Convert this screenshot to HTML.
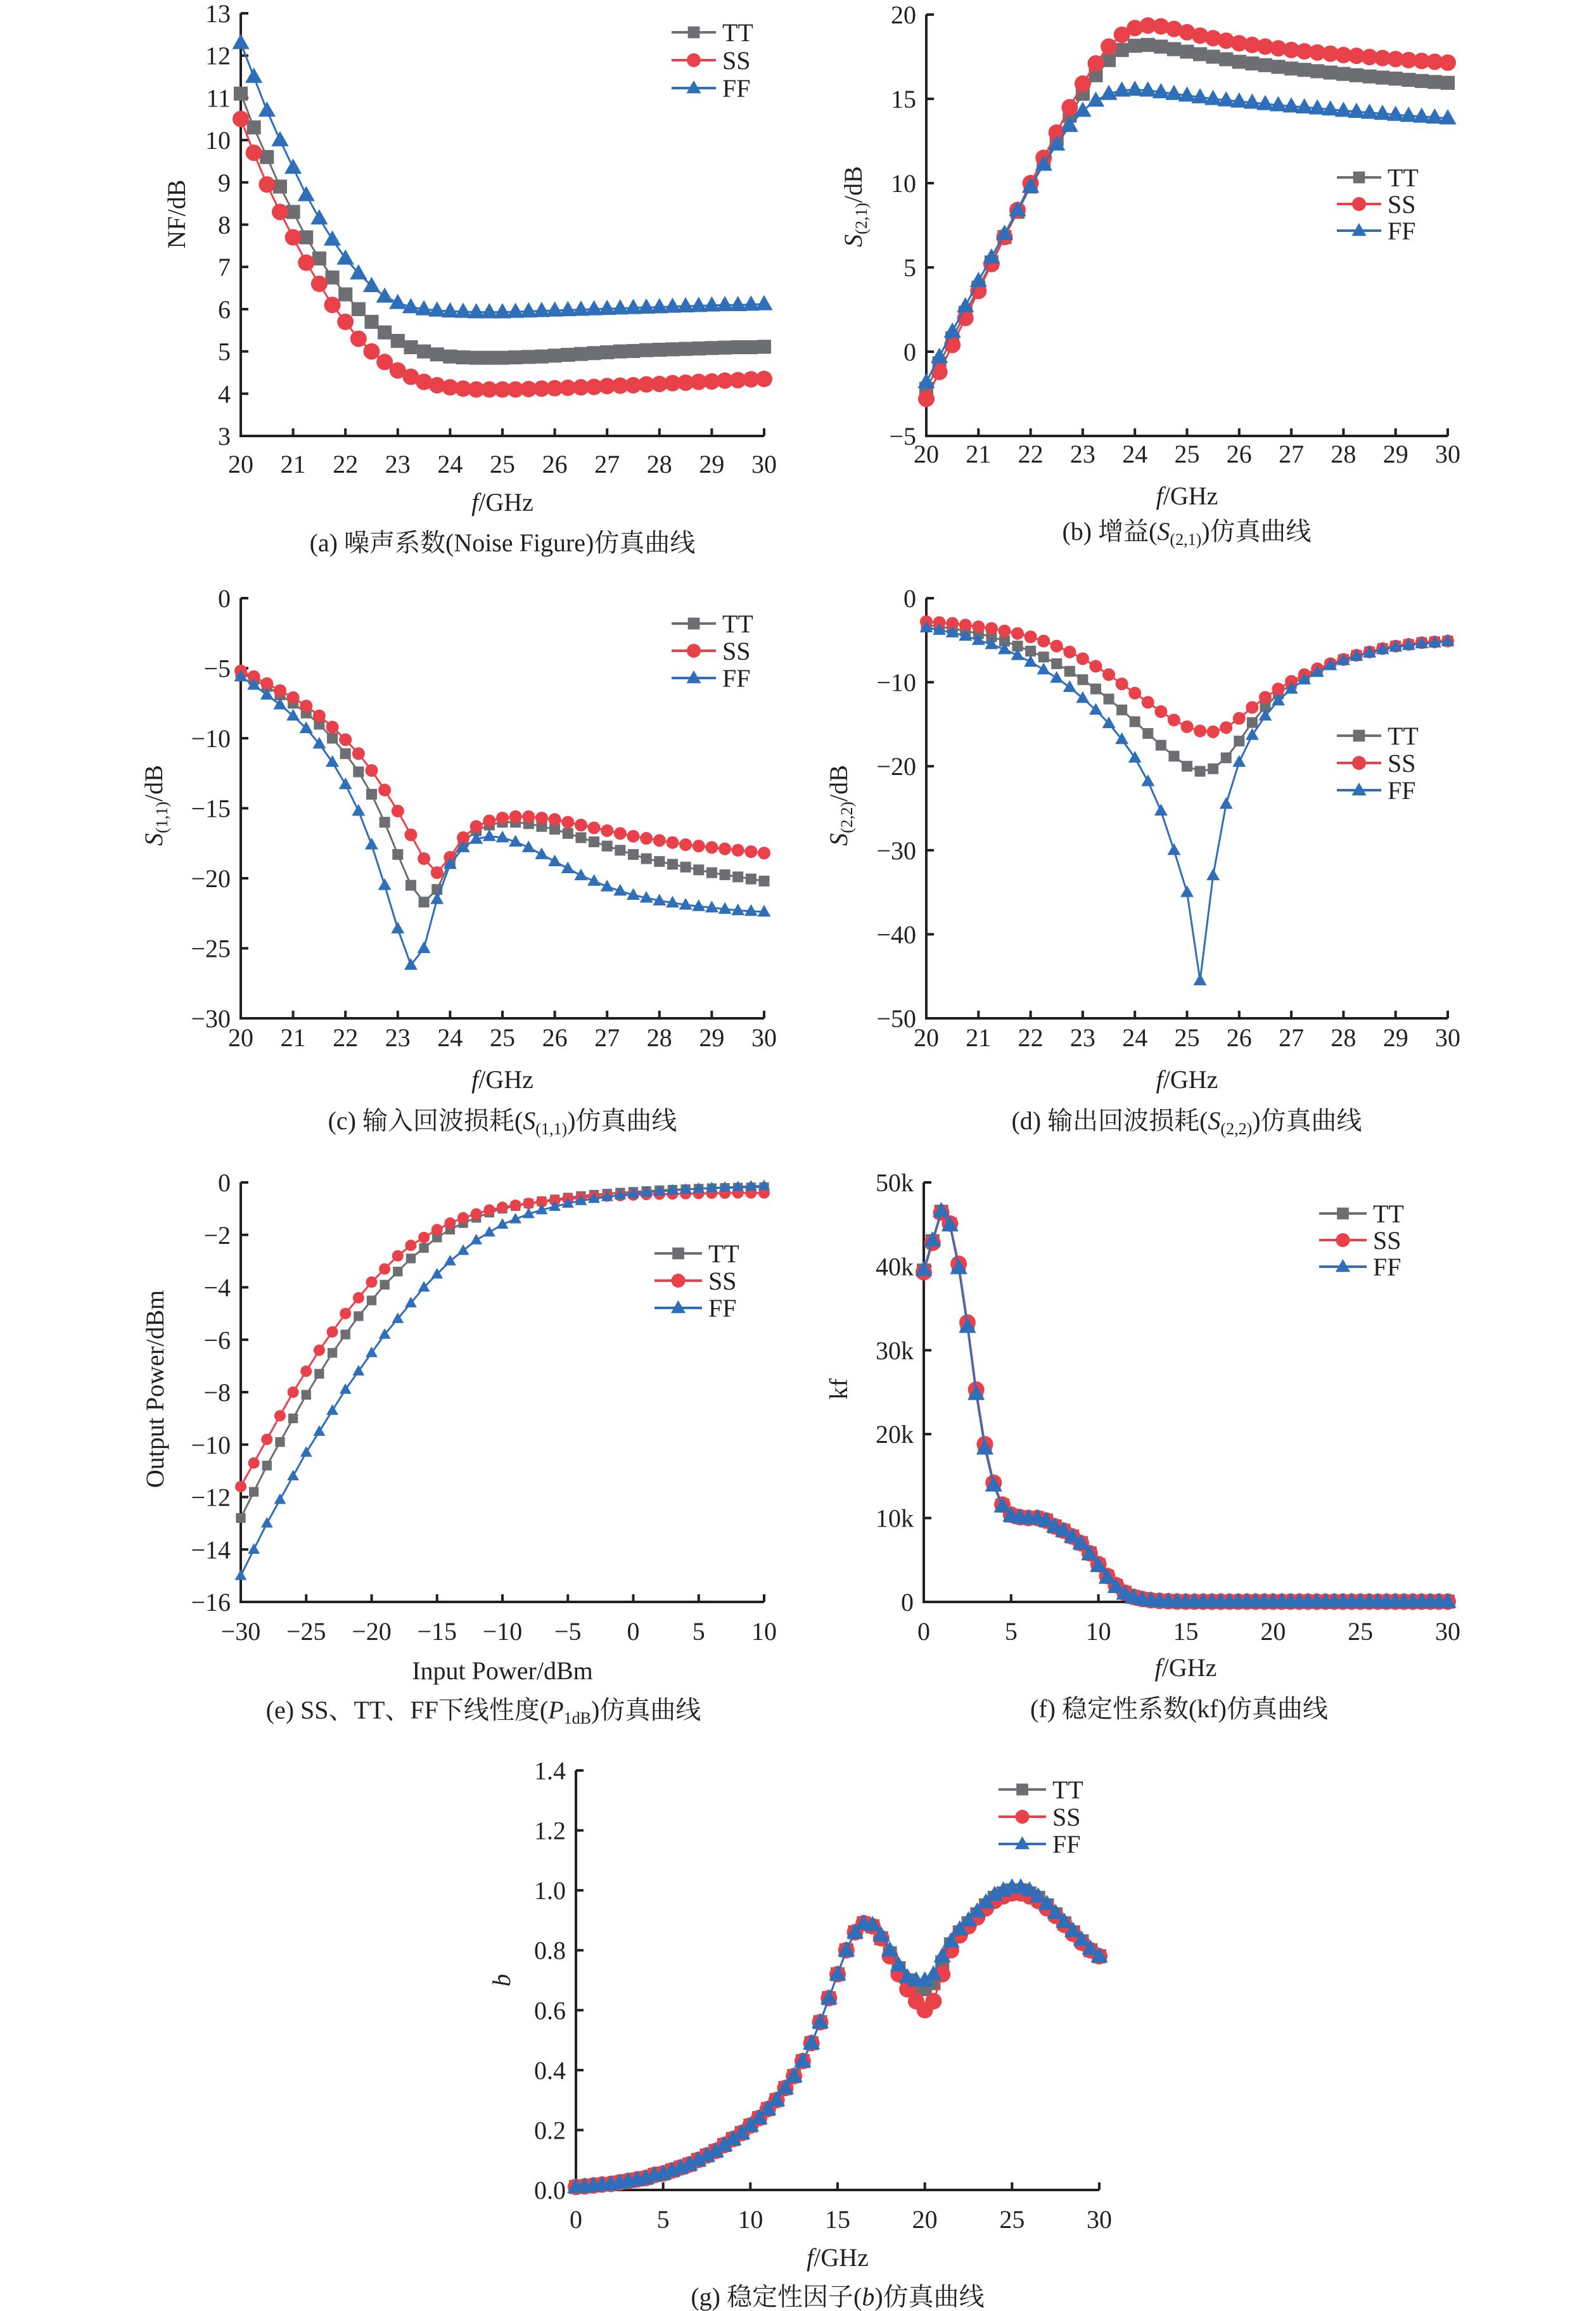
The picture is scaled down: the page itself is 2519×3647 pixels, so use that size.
<!DOCTYPE html>
<html><head><meta charset="utf-8">
<style>
html,body{margin:0;padding:0;background:#fff;}
svg{display:block;font-family:"Liberation Serif","Noto Serif CJK SC",serif;}
</style></head>
<body>
<svg id="fig" width="2519" height="3647" viewBox="0 0 2519 3647" xmlns="http://www.w3.org/2000/svg"></svg>
<script>
// ---- data (a) noise figure, 20..30 GHz step 0.25 ----
const freqA = [20,20.25,20.5,20.75,21,21.25,21.5,21.75,22,22.25,22.5,22.75,23,23.25,23.5,23.75,24,24.25,24.5,24.75,25,25.25,25.5,25.75,26,26.25,26.5,26.75,27,27.25,27.5,27.75,28,28.25,28.5,28.75,29,29.25,29.5,29.75,30];
const nfTT = [11.1,10.3,9.6,8.9,8.3,7.7,7.2,6.75,6.35,6.0,5.7,5.45,5.25,5.1,5.0,4.93,4.88,4.86,4.85,4.85,4.85,4.86,4.87,4.88,4.9,4.92,4.94,4.96,4.98,5.0,5.01,5.03,5.04,5.05,5.06,5.07,5.08,5.09,5.1,5.1,5.11];
const nfSS = [10.5,9.7,8.95,8.3,7.7,7.1,6.6,6.1,5.7,5.3,5.0,4.75,4.55,4.4,4.28,4.2,4.15,4.12,4.1,4.1,4.1,4.1,4.11,4.12,4.13,4.14,4.15,4.16,4.18,4.19,4.2,4.22,4.23,4.25,4.26,4.28,4.29,4.31,4.32,4.34,4.35];
const nfFF = [12.3,11.5,10.7,10.0,9.35,8.7,8.15,7.65,7.2,6.85,6.55,6.3,6.15,6.05,6.0,5.97,5.95,5.94,5.93,5.93,5.93,5.94,5.95,5.96,5.97,5.98,5.99,6.0,6.01,6.02,6.03,6.04,6.05,6.06,6.07,6.08,6.09,6.1,6.1,6.11,6.12];
// ---- (b) S21 ----
const s21TT = [-2.2,-0.7,0.8,2.3,3.8,5.3,6.8,8.3,9.8,11.2,12.6,14.0,15.3,16.4,17.3,17.9,18.15,18.2,18.1,17.95,17.8,17.65,17.5,17.35,17.2,17.1,17.0,16.9,16.8,16.72,16.64,16.56,16.48,16.4,16.33,16.26,16.2,16.13,16.06,16.0,15.95];
const s21SS = [-2.8,-1.2,0.4,2.0,3.6,5.2,6.8,8.4,10.0,11.5,13.0,14.5,15.9,17.1,18.1,18.8,19.2,19.35,19.3,19.15,18.95,18.75,18.6,18.45,18.3,18.2,18.1,18.0,17.9,17.82,17.75,17.68,17.6,17.55,17.48,17.42,17.36,17.3,17.25,17.2,17.15];
const s21FF = [-1.8,-0.3,1.2,2.7,4.2,5.6,7.0,8.4,9.8,11.1,12.3,13.4,14.3,14.9,15.3,15.5,15.55,15.5,15.4,15.3,15.2,15.1,15.0,14.92,14.85,14.78,14.7,14.63,14.56,14.5,14.44,14.38,14.3,14.24,14.18,14.12,14.06,14.0,13.95,13.9,13.85];
// ---- (c) S11 ----
const s11TT = [-5.3,-5.8,-6.3,-6.9,-7.5,-8.2,-9.0,-10.0,-11.1,-12.4,-14.0,-16.0,-18.3,-20.5,-21.7,-20.8,-18.8,-17.4,-16.6,-16.2,-16.0,-16.0,-16.1,-16.3,-16.5,-16.8,-17.1,-17.4,-17.7,-18.0,-18.3,-18.6,-18.8,-19.0,-19.2,-19.4,-19.6,-19.75,-19.9,-20.05,-20.2];
const s11SS = [-5.2,-5.6,-6.1,-6.6,-7.1,-7.7,-8.4,-9.2,-10.1,-11.1,-12.3,-13.7,-15.2,-16.9,-18.6,-19.6,-18.5,-17.1,-16.3,-15.9,-15.7,-15.6,-15.6,-15.7,-15.8,-16.0,-16.2,-16.4,-16.6,-16.8,-17.0,-17.15,-17.3,-17.45,-17.6,-17.7,-17.8,-17.9,-18.0,-18.1,-18.2];
const s11FF = [-5.6,-6.2,-6.9,-7.6,-8.4,-9.3,-10.4,-11.7,-13.3,-15.2,-17.6,-20.5,-23.6,-26.2,-25.0,-21.5,-19.0,-17.8,-17.2,-17.0,-17.1,-17.4,-17.8,-18.3,-18.8,-19.3,-19.8,-20.2,-20.6,-20.9,-21.2,-21.4,-21.6,-21.75,-21.9,-22.0,-22.1,-22.2,-22.3,-22.35,-22.4];
// ---- (d) S22 ----
const s22TT = [-3.2,-3.4,-3.6,-3.9,-4.2,-4.6,-5.1,-5.7,-6.3,-7.0,-7.8,-8.7,-9.7,-10.8,-12.0,-13.3,-14.7,-16.1,-17.5,-18.8,-20.0,-20.6,-20.3,-19.0,-17.0,-14.8,-12.9,-11.4,-10.2,-9.4,-8.6,-7.9,-7.3,-6.8,-6.4,-6.0,-5.7,-5.5,-5.3,-5.2,-5.1];
const s22SS = [-2.8,-2.9,-3.0,-3.2,-3.4,-3.6,-3.9,-4.2,-4.6,-5.1,-5.7,-6.4,-7.2,-8.1,-9.1,-10.2,-11.3,-12.4,-13.5,-14.5,-15.3,-15.8,-15.9,-15.4,-14.3,-13.0,-11.8,-10.8,-9.9,-9.1,-8.4,-7.8,-7.3,-6.8,-6.4,-6.0,-5.7,-5.5,-5.3,-5.2,-5.1];
const s22FF = [-3.5,-3.8,-4.1,-4.5,-5.0,-5.5,-6.1,-6.8,-7.6,-8.5,-9.5,-10.6,-11.9,-13.3,-14.9,-16.8,-19.0,-21.8,-25.3,-30.0,-35.0,-45.5,-33.0,-24.5,-19.5,-16.3,-14.0,-12.2,-10.8,-9.7,-8.8,-8.0,-7.4,-6.9,-6.5,-6.1,-5.8,-5.6,-5.4,-5.3,-5.1];
// ---- (e) P1dB, input -30..10 dBm ----
const pin = [-30,-29,-28,-27,-26,-25,-24,-23,-22,-21,-20,-19,-18,-17,-16,-15,-14,-13,-12,-11,-10,-9,-8,-7,-6,-5,-4,-3,-2,-1,0,1,2,3,4,5,6,7,8,9,10];
const poutTT = [-12.8,-11.8,-10.8,-9.9,-9.0,-8.1,-7.3,-6.5,-5.8,-5.1,-4.5,-3.9,-3.4,-2.9,-2.5,-2.1,-1.8,-1.55,-1.35,-1.15,-1.0,-0.9,-0.8,-0.72,-0.65,-0.58,-0.52,-0.47,-0.43,-0.39,-0.36,-0.33,-0.3,-0.28,-0.26,-0.24,-0.22,-0.21,-0.2,-0.19,-0.18];
const poutSS = [-11.6,-10.7,-9.8,-8.9,-8.0,-7.2,-6.4,-5.7,-5.0,-4.4,-3.8,-3.3,-2.8,-2.4,-2.1,-1.8,-1.55,-1.35,-1.2,-1.05,-0.95,-0.87,-0.8,-0.74,-0.68,-0.63,-0.59,-0.55,-0.52,-0.5,-0.48,-0.46,-0.45,-0.44,-0.43,-0.42,-0.41,-0.41,-0.4,-0.4,-0.4];
const poutFF = [-15.0,-14.0,-13.0,-12.1,-11.2,-10.3,-9.5,-8.7,-7.9,-7.2,-6.5,-5.8,-5.2,-4.6,-4.0,-3.5,-3.0,-2.6,-2.2,-1.9,-1.6,-1.4,-1.2,-1.05,-0.92,-0.8,-0.7,-0.62,-0.55,-0.48,-0.43,-0.38,-0.34,-0.3,-0.27,-0.24,-0.21,-0.19,-0.17,-0.15,-0.13];
// ---- (f)(g) 0..30 GHz step 0.5 ----
const freqF = [0,0.5,1,1.5,2,2.5,3,3.5,4,4.5,5,5.5,6,6.5,7,7.5,8,8.5,9,9.5,10,10.5,11,11.5,12,12.5,13,13.5,14,14.5,15,15.5,16,16.5,17,17.5,18,18.5,19,19.5,20,20.5,21,21.5,22,22.5,23,23.5,24,24.5,25,25.5,26,26.5,27,27.5,28,28.5,29,29.5,30];
const kfTT = [39.5,43,46.5,45,40,33,25,18.5,14,11.5,10.3,10.1,10.0,10.0,9.7,9.0,8.5,7.8,7.0,5.8,4.4,3.0,1.9,1.1,0.6,0.35,0.2,0.12,0.08,0.05,0.03,0.03,0.03,0.03,0.03,0.03,0.03,0.03,0.03,0.03,0.03,0.03,0.03,0.03,0.03,0.03,0.03,0.03,0.03,0.03,0.03,0.03,0.03,0.03,0.03,0.03,0.03,0.03,0.03,0.03,0.03];
const kfSS = [39.3,42.8,46.4,45.1,40.3,33.3,25.3,18.8,14.2,11.6,10.4,10.1,10.0,10.0,9.7,9.0,8.5,7.8,7.0,5.8,4.5,3.1,2.0,1.1,0.6,0.35,0.2,0.12,0.08,0.05,0.03,0.03,0.03,0.03,0.03,0.03,0.03,0.03,0.03,0.03,0.03,0.03,0.03,0.03,0.03,0.03,0.03,0.03,0.03,0.03,0.03,0.03,0.03,0.03,0.03,0.03,0.03,0.03,0.03,0.03,0.03];
const kfFF = [39.6,43.1,46.6,44.9,39.8,32.8,24.8,18.3,13.9,11.4,10.3,10.1,10.0,10.0,9.7,9.0,8.5,7.8,7.0,5.7,4.3,2.9,1.8,1.0,0.55,0.33,0.2,0.12,0.08,0.05,0.03,0.03,0.03,0.03,0.03,0.03,0.03,0.03,0.03,0.03,0.03,0.03,0.03,0.03,0.03,0.03,0.03,0.03,0.03,0.03,0.03,0.03,0.03,0.03,0.03,0.03,0.03,0.03,0.03,0.03,0.03];
const bTT = [0.01,0.012,0.015,0.018,0.02,0.025,0.03,0.035,0.04,0.05,0.055,0.065,0.075,0.085,0.1,0.115,0.13,0.15,0.17,0.19,0.215,0.24,0.27,0.3,0.34,0.38,0.43,0.49,0.56,0.64,0.72,0.8,0.86,0.89,0.88,0.84,0.79,0.74,0.7,0.68,0.67,0.69,0.76,0.82,0.86,0.89,0.92,0.95,0.975,0.99,1.0,1.0,0.99,0.975,0.95,0.92,0.89,0.86,0.83,0.8,0.78];
const bSS = [0.01,0.012,0.015,0.018,0.02,0.025,0.03,0.035,0.04,0.05,0.055,0.065,0.075,0.085,0.1,0.115,0.13,0.15,0.17,0.19,0.215,0.24,0.27,0.3,0.34,0.38,0.43,0.49,0.56,0.64,0.72,0.8,0.86,0.89,0.88,0.84,0.78,0.72,0.67,0.63,0.6,0.63,0.72,0.8,0.85,0.88,0.91,0.94,0.965,0.98,0.99,0.99,0.98,0.965,0.94,0.915,0.885,0.855,0.825,0.8,0.78];
const bFF = [0.01,0.012,0.015,0.018,0.02,0.025,0.03,0.035,0.04,0.05,0.055,0.065,0.075,0.085,0.1,0.115,0.13,0.15,0.17,0.19,0.215,0.24,0.27,0.3,0.34,0.38,0.43,0.49,0.56,0.64,0.72,0.8,0.86,0.89,0.885,0.85,0.8,0.75,0.71,0.7,0.7,0.72,0.78,0.83,0.87,0.9,0.93,0.96,0.985,1.0,1.01,1.01,1.0,0.98,0.955,0.925,0.895,0.865,0.835,0.805,0.78];

const NS = "http://www.w3.org/2000/svg";
const svg = document.getElementById('fig');
const COL = {TT:'#6d6e71', SS:'#e8414a', FF:'#2f6fba'};
function mk(tag, attrs, parent){const e=document.createElementNS(NS,tag);for(const k in attrs)e.setAttribute(k,attrs[k]);(parent||svg).appendChild(e);return e;}
function txt(s, x, y, size, anchor, parent){const t=mk('text',{x:x,y:y,'font-size':size,'text-anchor':anchor||'middle',fill:'#231f20'},parent);t.innerHTML=s;return t;}
function marker(kind, cx, cy, r, g){
  let m;
  if(kind==='TT') m=mk('rect',{x:cx-r*0.85,y:cy-r*0.85,width:r*1.7,height:r*1.7,fill:COL.TT},g);
  else if(kind==='SS') m=mk('circle',{cx:cx,cy:cy,r:r,fill:COL.SS},g);
  else m=mk('polygon',{points:(cx)+','+(cy-r*1.1)+' '+(cx-r*1.05)+','+(cy+r*0.75)+' '+(cx+r*1.05)+','+(cy+r*0.75),fill:COL.FF},g);
  return m;
}
function panel(p){
  const g=mk('g',{});
  
  
  const sx=v=>p.x0+(v-p.xmin)/(p.xmax-p.xmin)*(p.x1-p.x0);
  const sy=v=>p.yb+(v-p.ymin)/(p.ymax-p.ymin)*(p.yt-p.yb);
  const ax=mk('path',{d:'M'+p.x0+','+p.yt+' L'+p.x0+','+p.yb+' L'+p.x1+','+p.yb,stroke:'#231f20','stroke-width':4,fill:'none'},g);
  
  
  p.yticks.forEach((v,i)=>{
    const y=sy(v);
    mk('line',{x1:p.x0,x2:p.x0+12,y1:y,y2:y,stroke:'#231f20','stroke-width':4},g);
    const t=txt(p.ylabels[i],p.x0-16,y+14,40,'end',g);
    
    
  });
  p.xticks.forEach((v,i)=>{
    const x=sx(v);
    mk('line',{x1:x,x2:x,y1:p.yb,y2:p.yb-12,stroke:'#231f20','stroke-width':4},g);
    const t=txt(p.xlabels[i],x,p.xly,40,'middle',g);
    
    
  });
  p.series.forEach(s=>{
    const sg=mk('g',{},g);
    
    
    let d='';
    s.y.forEach((v,i)=>{d+=(i?'L':'M')+sx(p.xs[i]).toFixed(1)+','+sy(v).toFixed(1);});
    mk('path',{d:d,stroke:COL[s.k],'stroke-width':3,fill:'none'},sg);
    s.y.forEach((v,i)=>{
      const m=marker(s.k,sx(p.xs[i]),sy(v),p.mr,sg);
      
      
    });
  });
  const lg=mk('g',{},g);
  
  
  ['TT','SS','FF'].forEach((k,i)=>{
    const y=p.lg[1]+i*p.lg[3];
    const e=mk('g',{},lg);
    
    
    mk('line',{x1:p.lg[0],x2:p.lg[0]+p.lg[2],y1:y,y2:y,stroke:COL[k],'stroke-width':4},e);
    marker(k,p.lg[0]+p.lg[2]/2,y,11,e);
    txt(k,p.lg[0]+p.lg[2]+10,y+14,40,'start',e);
  });
  const xl=txt(p.xt,(p.x0+p.x1)/2,p.xty,40,'middle',g);
  
  
  const yl=mk('text',{x:0,y:0,'font-size':40,'text-anchor':'middle',fill:'#231f20',transform:'translate('+p.ytx+','+p.yty+') rotate(-90)'},g);
  yl.innerHTML=p.yt_;
  
  
  const cp=txt(p.cap,p.capx,p.capy,40,'middle',g);
  
  
}
function rng(a,b,s){const r=[];for(let v=a;v<=b+1e-9;v+=s)r.push(+v.toFixed(4));return r;}
const GHZ='<tspan font-style="italic">f</tspan>/GHz';
const fTicks=rng(20,30,1), fLab=fTicks.map(String);
const sub=(a)=>'<tspan font-style="italic">S</tspan><tspan font-size="26" dy="8">('+a+')</tspan><tspan dy="-8">/dB</tspan>';

panel({name:'chart-a-noise-figure',x0:380,x1:1206,yt:21,yb:688,xmin:20,xmax:30,ymin:3,ymax:13,
  yticks:rng(3,13,1),ylabels:rng(3,13,1).map(String),xticks:fTicks,xlabels:fLab,xly:746,
  xs:freqA,series:[{k:'TT',y:nfTT},{k:'SS',y:nfSS},{k:'FF',y:nfFF}],mr:13,
  lg:[1060,51,70,44],xt:GHZ,xty:806,ytx:292,yty:338,yt_:'NF/dB',cap:'(a) 噪声系数(Noise Figure)仿真曲线',capx:793,capy:870});
panel({name:'chart-b-gain',x0:1462,x1:2285,yt:23,yb:688,xmin:20,xmax:30,ymin:-5,ymax:20,
  yticks:rng(-5,20,5),ylabels:['−5','0','5','10','15','20'],xticks:fTicks,xlabels:fLab,xly:730,
  xs:freqA,series:[{k:'TT',y:s21TT},{k:'SS',y:s21SS},{k:'FF',y:s21FF}],mr:13,
  lg:[2110,280,70,42],xt:GHZ,xty:796,ytx:1360,yty:326,yt_:sub('2,1'),cap:'(b) 增益(<tspan font-style="italic">S</tspan><tspan font-size="26" dy="8">(2,1)</tspan><tspan dy="-8">)仿真曲线</tspan>',capx:1873,capy:852});
panel({name:'chart-c-input-return-loss',x0:380,x1:1206,yt:944,yb:1607,xmin:20,xmax:30,ymin:-30,ymax:0,
  yticks:rng(-30,0,5),ylabels:['−30','−25','−20','−15','−10','−5','0'],xticks:fTicks,xlabels:fLab,xly:1651,
  xs:freqA,series:[{k:'TT',y:s11TT},{k:'SS',y:s11SS},{k:'FF',y:s11FF}],mr:10,
  lg:[1060,984,70,43],xt:GHZ,xty:1717,ytx:256,yty:1271,yt_:sub('1,1'),cap:'(c) 输入回波损耗(<tspan font-style="italic">S</tspan><tspan font-size="26" dy="8">(1,1)</tspan><tspan dy="-8">)仿真曲线</tspan>',capx:793,capy:1782});
panel({name:'chart-d-output-return-loss',x0:1462,x1:2285,yt:944,yb:1607,xmin:20,xmax:30,ymin:-50,ymax:0,
  yticks:rng(-50,0,10),ylabels:['−50','−40','−30','−20','−10','0'],xticks:fTicks,xlabels:fLab,xly:1651,
  xs:freqA,series:[{k:'TT',y:s22TT},{k:'SS',y:s22SS},{k:'FF',y:s22FF}],mr:10,
  lg:[2110,1161,70,43],xt:GHZ,xty:1717,ytx:1337,yty:1271,yt_:sub('2,2'),cap:'(d) 输出回波损耗(<tspan font-style="italic">S</tspan><tspan font-size="26" dy="8">(2,2)</tspan><tspan dy="-8">)仿真曲线</tspan>',capx:1873,capy:1782});
panel({name:'chart-e-p1db',x0:380,x1:1206,yt:1866,yb:2528,xmin:-30,xmax:10,ymin:-16,ymax:0,
  yticks:rng(-16,0,2),ylabels:['−16','−14','−12','−10','−8','−6','−4','−2','0'],xticks:rng(-30,10,5),xlabels:['−30','−25','−20','−15','−10','−5','0','5','10'],xly:2588,
  xs:pin,series:[{k:'TT',y:poutTT},{k:'SS',y:poutSS},{k:'FF',y:poutFF}],mr:9,
  lg:[1033,1978,75,43],xt:'Input Power/dBm',xty:2650,ytx:258,yty:2192,yt_:'Output Power/dBm',cap:'(e) SS、TT、FF下线性度(<tspan font-style="italic">P</tspan><tspan font-size="26" dy="8">1dB</tspan><tspan dy="-8">)仿真曲线</tspan>',capx:763,capy:2712});
panel({name:'chart-f-kf',x0:1458,x1:2285,yt:1866,yb:2528,xmin:0,xmax:30,ymin:0,ymax:50,
  yticks:rng(0,50,10),ylabels:['0','10k','20k','30k','40k','50k'],xticks:rng(0,30,5),xlabels:['0','5','10','15','20','25','30'],xly:2588,
  xs:freqF,series:[{k:'TT',y:kfTT},{k:'SS',y:kfSS},{k:'FF',y:kfFF}],mr:13,
  lg:[2082,1915,75,42],xt:GHZ,xty:2645,ytx:1337,yty:2192,yt_:'kf',cap:'(f) 稳定性系数(kf)仿真曲线',capx:1861,capy:2710});
panel({name:'chart-g-b-factor',x0:909,x1:1735,yt:2794,yb:3456,xmin:0,xmax:30,ymin:0,ymax:1.4,
  yticks:rng(0,1.4,0.2),ylabels:['0.0','0.2','0.4','0.6','0.8','1.0','1.2','1.4'],xticks:rng(0,30,5),xlabels:['0','5','10','15','20','25','30'],xly:3516,
  xs:freqF,series:[{k:'TT',y:bTT},{k:'SS',y:bSS},{k:'FF',y:bFF}],mr:13,
  lg:[1576,2824,75,43],xt:GHZ,xty:3576,ytx:805,yty:3125,yt_:'<tspan font-style="italic">b</tspan>',cap:'(g) 稳定性因子(<tspan font-style="italic">b</tspan>)仿真曲线',capx:1322,capy:3638});
</script>
</body></html>
